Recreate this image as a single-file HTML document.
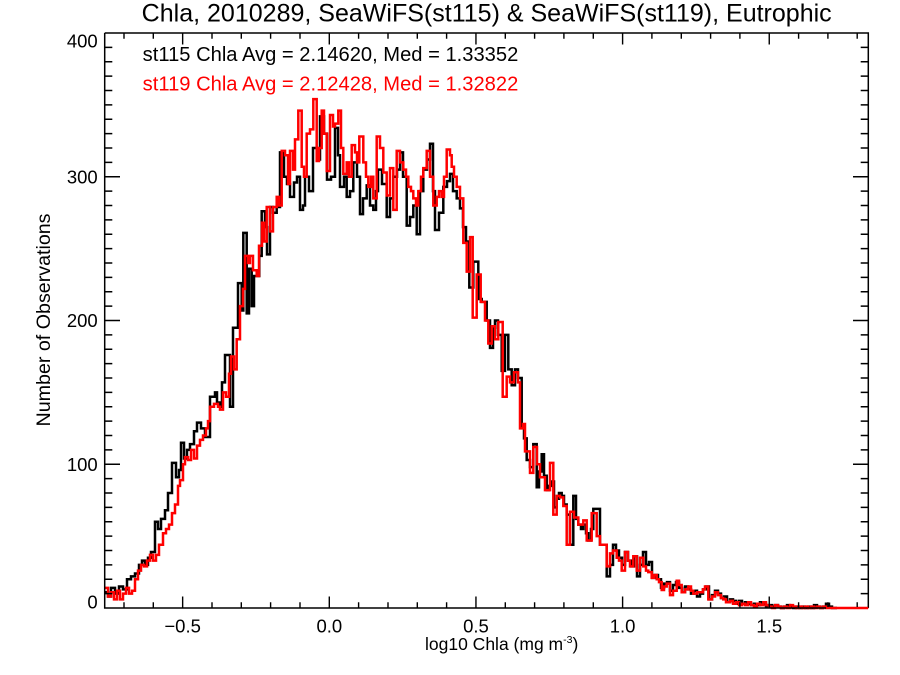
<!DOCTYPE html>
<html><head><meta charset="utf-8"><style>
html,body{margin:0;padding:0;background:#fff;}
svg{display:block;}
text{font-family:"Liberation Sans",Arial,sans-serif;}
</style></head><body>
<svg width="900" height="675" viewBox="0 0 900 675" xmlns="http://www.w3.org/2000/svg">
<rect width="900" height="675" fill="#fff"/>
<!-- title -->
<text x="141.7" y="21.7" font-size="24.8" textLength="690" lengthAdjust="spacingAndGlyphs" fill="#000">Chla, 2010289, SeaWiFS(st115) &amp; SeaWiFS(st119), Eutrophic</text>

<!-- histograms in data-count space -->
<g transform="matrix(1 0 0 -1.4375 0 608)" fill="none" stroke-linejoin="miter">
<path vector-effect="non-scaling-stroke" stroke="#000" stroke-width="2.5" d="M105,11 H108 V8 H111 V14 H115 V10 H119 V15 H123 V13 H127 V20 H131 V22 H135 V24 H139 V30 H142 V33 H145 V30 H148 V35 H151 V39 H155 V60 H158 V55 H161 V62 H165 V68 H168 V80 H172 V101 H176 V91 H179 V96 H181 V115 H184 V104 H187 V110 H190 V114 H194 V123 H197 V129 H201 V125 H205 V119 H210 V147 H215 V150 H217 V143 H220 V140 H222 V157 H225 V176 H230 V140 H233 V195 H238 V226 H241.7 V207 H243.3 V261 H246.7 V205 H249 V236 H251.7 V210 H254 V231 H259.3 V245 H261.7 V276 H265 V265 H267 V246 H270 V279 H273 V275 H276.7 V279 H280 V317 H284 V300 H287 V295 H290 V286 H294 V296 H297 V300 H300 V277 H303 V280 H305 V300 H309 V290 H313 V320 H317 V312 H320 V342 H324 V330 H327 V298 H331 V300 H335 V334 H338 V315 H340 V293 H344 V300 H346.7 V286 H350 V290 H353.3 V310 H357 V300 H360 V274 H363 V285 H366.7 V294 H370 V280 H373.3 V277 H376 V290 H378 V305 H382 V295 H386.7 V272 H390 V285 H393.3 V300 H397 V305 H400 V317 H403 V300 H406.7 V266 H410 V272 H413.3 V280 H416.7 V260 H420 V290 H423.3 V305 H427 V312 H430 V323 H433 V290 H435 V263 H439 V275 H443.3 V293 H447 V297 H450 V302 H453 V290 H456.7 V285 H460 V278 H463 V265 H466 V255 H469.3 V223 H473.3 V241 H478.3 V215 H481.7 V213 H486.7 V200 H490 V181 H493 V195 H495 V200 H498 V190 H501.7 V165 H505 V190 H508.3 V166 H511.7 V155 H515 V166 H518 V160 H521.7 V126 H524 V118 H526.7 V103 H530 V98 H533.3 V114 H536.7 V84 H539 V95 H541.7 V107 H544 V92 H546.7 V82 H549 V85 H551.7 V88 H554 V70 H556.7 V76 H559 V80 H561.7 V78 H564 V72 H566.7 V65 H570 V44 H573.3 V78 H576 V62 H578.3 V58 H581 V55 H583.3 V58 H586 V52 H588.3 V47 H591 V55 H593.3 V69 H596.7 V69 H600 V44 H603 V44 H606.7 V22 H610 V30 H613 V44 H616 V40 H619 V35 H622 V30 H625 V39 H628 V33 H631 V29 H634 V36 H637 V22 H640 V30 H643 V39 H646 V30 H649 V32 H652 V21 H655 V23 H658 V20 H661 V14 H664 V17 H667 V18 H670 V12 H673 V16 H676 V18 H679 V14 H682 V11 H685 V15 H688 V13 H691 V10 H694 V12 H697 V8 H700 V10 H703 V13 H706 V15 H709 V6 H712 V9 H715 V12 H718 V10 H721 V7 H724 V8 H727 V4 H730 V6 H733 V5 H736 V3 H739 V5 H742 V3 H745 V4 H748 V3 H751 V2 H754 V3 H757 V2 H760 V4 H763 V3 H766 V1 H769 V2 H772 V1 H775 V2 H778 V1 H781 V0 H784 V1 H787 V2 H790 V1 H793 V0 H796 V1 H799 V0 H802 V1 H805 V0 H808 V1 H811 V0 H814 V2 H817 V1 H820 V0 H823 V1 H826 V3 H829 V1 H832 V0 H837"/>
<path vector-effect="non-scaling-stroke" stroke="#ff0000" stroke-width="2.5" d="M105,14 H108 V8 H111 V11 H114 V6 H117 V12 H120 V6 H123 V10 H126 V14 H129 V10 H132 V12 H135 V20 H138 V26 H141 V30 H144 V29 H147 V33 H150 V37 H153 V33 H156 V37 H159 V44 H163 V52 H166 V55 H169 V58 H172 V66 H175 V72 H178 V85 H180 V89 H183 V100 H185 V105 H188 V103 H191 V110 H194 V104 H197 V113 H200 V117 H203 V120 H206 V125 H208 V130 H210 V140 H214 V142 H218 V140 H220 V138 H223 V150 H226 V147 H229 V163 H231 V175 H234 V166 H236.7 V187 H240 V210 H243 V222 H245 V245 H248 V240 H250 V245 H253 V235 H256.7 V231 H259 V252 H262 V268 H264 V255 H266.7 V279 H270 V262 H273 V279 H276.7 V286 H279 V280 H281.7 V318 H285 V315 H288 V295 H290 V318 H293 V305 H295 V326 H298.3 V346 H301.7 V307 H304 V300 H306.7 V330 H310 V333 H313.3 V354 H316.7 V311 H319 V320 H321.7 V346 H324 V330 H326.7 V304 H330 V343 H333 V335 H335 V337 H338.3 V346 H341 V320 H343.3 V302 H346.7 V310 H349 V300 H351.7 V322 H355 V317 H357 V310 H359.3 V328 H363.3 V310 H366 V300 H368.3 V293 H371 V300 H373.3 V285 H376.7 V328 H380 V320 H383.3 V303 H386.7 V287 H390 V306 H393.3 V277 H396.7 V318 H400 V310 H403.3 V305 H406 V300 H408.3 V293 H411 V290 H413.3 V285 H416 V280 H418.3 V290 H421 V300 H423.3 V306 H426.7 V318 H430 V300 H433.3 V280 H436.7 V286 H439 V290 H441.7 V286 H444 V300 H446.7 V319 H450 V315 H451.7 V307 H454 V300 H456.7 V293 H460 V285 H463.3 V254 H466.7 V234 H470 V258 H472.7 V202 H476.7 V232 H480.7 V213 H485 V200 H488.3 V184 H491.7 V196 H495 V187 H498.3 V199 H502.7 V147 H506.7 V161 H510 V157 H514 V164 H518 V157 H520 V125 H523 V128 H525 V109 H530 V94 H533.3 V112 H537 V100 H540 V91 H545 V82 H550 V101 H553.3 V65 H556.7 V78 H560 V77 H563.3 V71 H566.7 V44 H570 V67 H574 V63 H578.3 V58 H583.3 V61 H586.7 V47 H591.7 V66 H596.7 V50 H600 V44 H603 V44 H606.7 V29 H610 V38 H613 V40 H616.7 V35 H619 V33 H621.7 V26 H625 V39 H628 V33 H630 V29 H633.3 V36 H636.7 V26 H640 V35 H643.3 V29 H646 V26 H648.3 V25 H651.7 V21 H654 V23 H656.7 V20 H659 V18 H661.7 V12.5 H664 V15 H666.7 V17 H670 V9 H673 V12 H676.7 V19 H679 V16 H681.7 V11 H685 V13 H688.3 V15 H691 V12 H693.3 V10 H697 V11 H700 V11 H703 V13 H705 V15 H708.3 V6 H712 V8 H715 V11 H718 V9 H721 V7 H723.3 V6 H726 V4 H730 V5 H733 V3 H736 V4 H739 V2 H742 V3 H745 V2 H748 V4 H751 V2 H754 V1 H757 V3 H760 V2 H763.3 V4 H766 V2 H769 V1 H772 V0 H775 V2 H778 V1 H781 V0 H784 V1 H787 V0 H790 V2 H793 V1 H796 V0 H799 V1 H802 V0 H805 V1 H808 V0 H811 V1 H814 V0 H817 V1 H820 V0 H823 V1 H826 V0 H868"/>

<!-- y ticks (count space) -->
<path vector-effect="non-scaling-stroke" stroke="#000" stroke-width="1.4" d="
M104.7,10h7.6M104.7,20h7.6M104.7,30h7.6M104.7,40h7.6M104.7,50h7.6M104.7,60h7.6M104.7,70h7.6M104.7,80h7.6M104.7,90h7.6
M104.7,110h7.6M104.7,120h7.6M104.7,130h7.6M104.7,140h7.6M104.7,150h7.6M104.7,160h7.6M104.7,170h7.6M104.7,180h7.6M104.7,190h7.6
M104.7,210h7.6M104.7,220h7.6M104.7,230h7.6M104.7,240h7.6M104.7,250h7.6M104.7,260h7.6M104.7,270h7.6M104.7,280h7.6M104.7,290h7.6
M104.7,310h7.6M104.7,320h7.6M104.7,330h7.6M104.7,340h7.6M104.7,350h7.6M104.7,360h7.6M104.7,370h7.6M104.7,380h7.6M104.7,390h7.6
M104.7,100h15.3M104.7,200h15.3M104.7,300h15.3
M868.3,10h-7.6M868.3,20h-7.6M868.3,30h-7.6M868.3,40h-7.6M868.3,50h-7.6M868.3,60h-7.6M868.3,70h-7.6M868.3,80h-7.6M868.3,90h-7.6
M868.3,110h-7.6M868.3,120h-7.6M868.3,130h-7.6M868.3,140h-7.6M868.3,150h-7.6M868.3,160h-7.6M868.3,170h-7.6M868.3,180h-7.6M868.3,190h-7.6
M868.3,210h-7.6M868.3,220h-7.6M868.3,230h-7.6M868.3,240h-7.6M868.3,250h-7.6M868.3,260h-7.6M868.3,270h-7.6M868.3,280h-7.6M868.3,290h-7.6
M868.3,310h-7.6M868.3,320h-7.6M868.3,330h-7.6M868.3,340h-7.6M868.3,350h-7.6M868.3,360h-7.6M868.3,370h-7.6M868.3,380h-7.6M868.3,390h-7.6
M868.3,100h-15.3M868.3,200h-15.3M868.3,300h-15.3"/>
</g>

<!-- x ticks -->
<path stroke="#000" stroke-width="1.4" fill="none" d="
M124,608v-5.7M153.3,608v-5.7M182.65,608v-11.5M212,608v-5.7M241.3,608v-5.7M270.6,608v-5.7M300,608v-5.7M329.3,608v-11.5M358.6,608v-5.7M388,608v-5.7M417.3,608v-5.7M446.6,608v-5.7M475.95,608v-11.5M505.3,608v-5.7M534.6,608v-5.7M563.9,608v-5.7M593.3,608v-5.7M622.6,608v-11.5M651.9,608v-5.7M681.3,608v-5.7M710.6,608v-5.7M739.9,608v-5.7M769.25,608v-11.5M798.6,608v-5.7M827.9,608v-5.7M857.2,608v-5.7
M124,33v5.7M153.3,33v5.7M182.65,33v11.5M212,33v5.7M241.3,33v5.7M270.6,33v5.7M300,33v5.7M329.3,33v11.5M358.6,33v5.7M388,33v5.7M417.3,33v5.7M446.6,33v5.7M475.95,33v11.5M505.3,33v5.7M534.6,33v5.7M563.9,33v5.7M593.3,33v5.7M622.6,33v11.5M651.9,33v5.7M681.3,33v5.7M710.6,33v5.7M739.9,33v5.7M769.25,33v11.5M798.6,33v5.7M827.9,33v5.7M857.2,33v5.7"/>

<!-- frame -->
<path stroke="#000" stroke-width="1.5" fill="none" d="M104.7,33 H868.3 V608 M104.7,33 V608 H826"/>
<path stroke="#ff0000" stroke-width="2" fill="none" d="M826,608 H868.3"/>

<!-- legend -->
<text x="142.7" y="61" font-size="20" textLength="375.6" lengthAdjust="spacingAndGlyphs" fill="#000">st115 Chla Avg = 2.14620, Med = 1.33352</text>
<text x="142.7" y="90.7" font-size="20" textLength="375.6" lengthAdjust="spacingAndGlyphs" fill="#ff0000">st119 Chla Avg = 2.12428, Med = 1.32822</text>

<!-- y tick labels -->
<g font-size="18.5" text-anchor="end" fill="#000">
<text x="97.7" y="608.3">0</text>
<text x="97.7" y="470.8">100</text>
<text x="97.7" y="326.8">200</text>
<text x="97.7" y="183.6">300</text>
<text x="97.7" y="47.4">400</text>
</g>
<!-- x tick labels -->
<g font-size="18.5" text-anchor="middle" fill="#000">
<text x="182.65" y="632.3">−0.5</text>
<text x="329.3" y="632.3">0.0</text>
<text x="475.95" y="632.3">0.5</text>
<text x="622.6" y="632.3">1.0</text>
<text x="769.25" y="632.3">1.5</text>
</g>

<!-- axis titles -->
<text x="425" y="650" font-size="17.5" fill="#000">log10 Chla (mg m<tspan dy="-7" font-size="10.5">-3</tspan><tspan dy="7">)</tspan></text>
<text transform="translate(50,320) rotate(-90)" text-anchor="middle" font-size="19.5" textLength="213" lengthAdjust="spacingAndGlyphs" fill="#000">Number of Observations</text>
</svg>
</body></html>
